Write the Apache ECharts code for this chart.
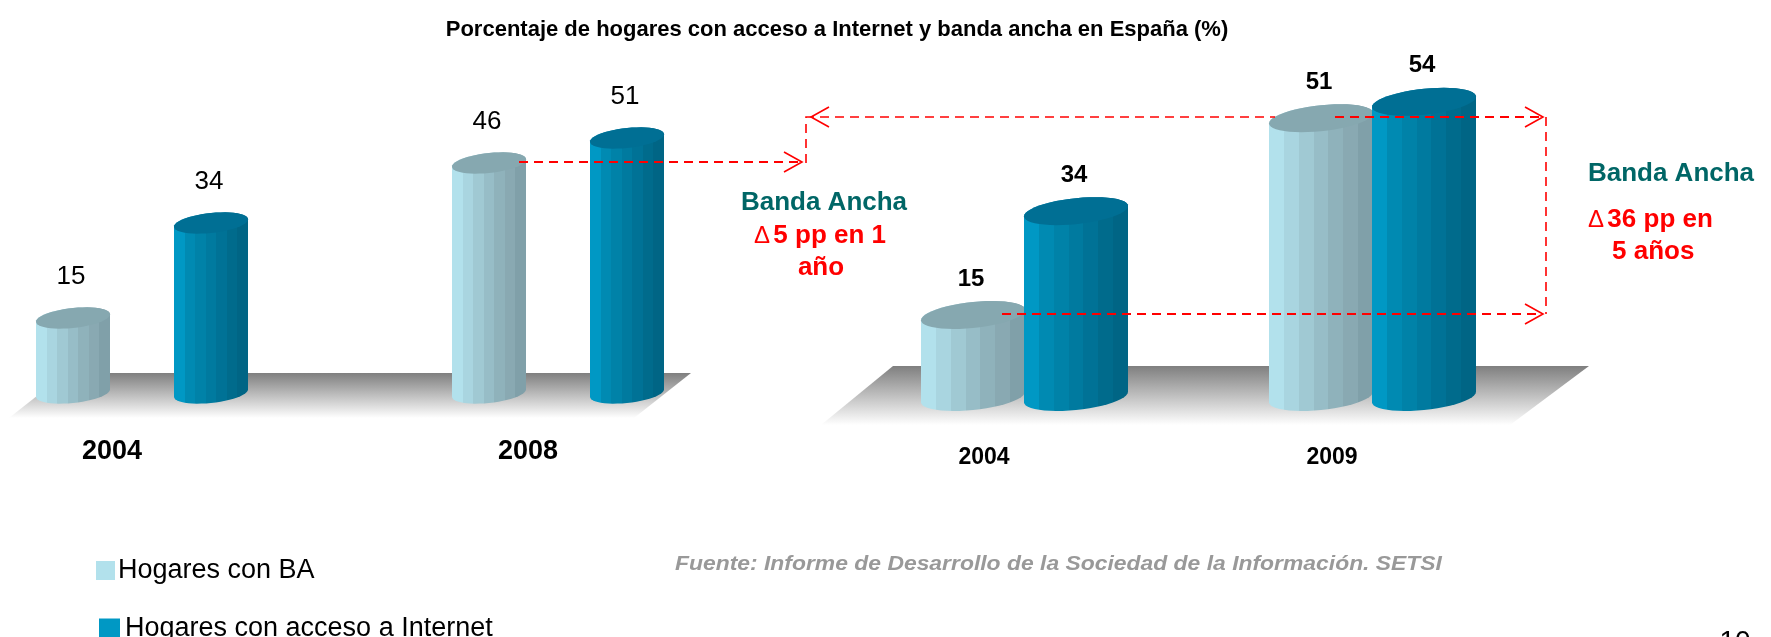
<!DOCTYPE html>
<html>
<head>
<meta charset="utf-8">
<title>Hogares con acceso a Internet y banda ancha</title>
<style>
  html, body { margin: 0; padding: 0; background: #fff; }
  #chart { width: 1771px; height: 637px; }
</style>
</head>
<body>
<div id="chart"></div>
<script src="https://cdn.jsdelivr.net/npm/echarts@6/dist/echarts.min.js"></script>
<script>
const leftYears = ["2004", "2008"];
const leftBA = [15, 46];
const leftInternet = [34, 51];
const rightYears = ["2004", "2009"];
const rightBA = [15, 51];
const rightInternet = [34, 54];

const nameBA = "Hogares con BA";
const nameInternet = "Hogares con acceso a Internet";
const FONT = '"Liberation Sans", Arial, sans-serif';

// vertical facets of the cylinders, left to right
const lightFacets = ["#b2e1ec", "#a9d5e0", "#a0c9d3", "#97bdc7", "#8fb2bb", "#89a9b2", "#80a0a9"];
const darkFacets = ["#0098c4", "#008ab2", "#0082a8", "#007a9f", "#007296", "#006b8c", "#006585"];
const lightCap = "#86a8b0";
const darkCap = "#006f94";

function facetGradient(colors) {
  const stops = [];
  colors.forEach((c, i) => {
    stops.push({ offset: i / colors.length, color: c });
    stops.push({ offset: (i + 1) / colors.length, color: c });
  });
  return new echarts.graphic.LinearGradient(0, 0, 1, 0, stops);
}

// sheared ellipse outline, t in radians
function rimPoint(cx, cy, a, b, shear, t) {
  const dx = a * Math.cos(t);
  return [cx + dx, cy + b * Math.sin(t) - dx * shear];
}

function cylinderSeries(name, data, xAxisIndex, opt) {
  return {
    name,
    type: "custom",
    xAxisIndex,
    yAxisIndex: xAxisIndex,
    itemStyle: { color: opt.swatch },
    encode: { x: 0, y: 1 },
    data: data.map((v, i) => [i, v]),
    renderItem(params, api) {
      const value = api.value(1);
      const top = api.coord([api.value(0), value]);
      const base = api.coord([api.value(0), 0]);
      const cx = top[0] + opt.offset;
      const body = [];
      for (let k = 0; k <= 24; k++) {
        body.push(rimPoint(cx, top[1], opt.a, opt.b, opt.shear, Math.PI + (k / 24) * Math.PI));
      }
      for (let k = 0; k <= 24; k++) {
        body.push(rimPoint(cx, base[1], opt.a, opt.b, opt.shear, (k / 24) * Math.PI));
      }
      const cap = [];
      for (let k = 0; k < 48; k++) {
        cap.push(rimPoint(cx, top[1], opt.a, opt.b, opt.shear, (k / 48) * 2 * Math.PI));
      }
      return {
        type: "group",
        children: [
          { type: "polygon", shape: { points: body }, style: { fill: facetGradient(opt.facets) } },
          { type: "polygon", shape: { points: cap }, style: { fill: opt.cap } },
          {
            type: "text",
            x: cx - 2,
            y: top[1] - opt.labelGap,
            style: {
              text: String(value),
              align: "center",
              verticalAlign: "middle",
              fill: "#000",
              font: opt.labelFont,
            },
          },
        ],
      };
    },
  };
}

const leftShape = { a: 37, b: 10, shear: 0.1, labelGap: 41, labelFont: "26px " + FONT };
const rightShape = { a: 52, b: 13, shear: 0.1, labelGap: 36, labelFont: "bold 24px " + FONT };

function redPath(points, width, z) {
  return {
    type: "polyline",
    z: z || 50,
    shape: { points },
    style: { fill: null, stroke: "#ff0000", lineWidth: width, lineDash: [9, 6] },
  };
}

function arrowHead(x, y, dir) {
  return {
    type: "polyline",
    z: 50,
    shape: { points: [[x - dir * 18, y - 10], [x, y], [x - dir * 18, y + 10]] },
    style: { fill: null, stroke: "#ff0000", lineWidth: 1.6 },
  };
}

function label(text, x, y, font, fill, align) {
  return {
    type: "text",
    z: 50,
    x,
    y,
    style: { text, font, fill, align: align || "center", verticalAlign: "middle" },
  };
}

function deltaLabel(text, x, y, align) {
  return {
    type: "text",
    z: 50,
    x,
    y,
    style: {
      text: "{d|Δ} {t|" + text + "}",
      align: align,
      verticalAlign: "middle",
      rich: {
        d: { font: "24px " + FONT, fill: "#ff0000" },
        t: { font: "bold 26px " + FONT, fill: "#ff0000" },
      },
    },
  };
}

function floor(points) {
  return {
    type: "polygon",
    z: 0,
    shape: { points },
    style: {
      fill: new echarts.graphic.LinearGradient(0, 0, 0, 1, [
        { offset: 0, color: "#7f7f7f" },
        { offset: 1, color: "#ffffff" },
      ]),
    },
  };
}

const chart = echarts.init(document.getElementById("chart"));
chart.setOption({
  animation: false,
  backgroundColor: "#ffffff",
  textStyle: { fontFamily: FONT },
  title: {
    text: "Porcentaje de hogares con acceso a Internet y banda ancha en España (%)",
    left: 832,
    textAlign: "center",
    top: 14,
    textStyle: { fontSize: 22, fontWeight: "bold", color: "#000", fontFamily: FONT },
  },
  legend: [
    {
      data: [nameBA],
      left: 91,
      top: 552,
      icon: "rect",
      itemWidth: 19,
      itemHeight: 19,
      itemGap: 7,
      textStyle: { fontSize: 27, color: "#000", fontFamily: FONT, padding: [0, 0, 0, -2] },
    },
    {
      data: [nameInternet],
      left: 94,
      top: 610,
      icon: "rect",
      itemWidth: 21,
      itemHeight: 20,
      itemGap: 7,
      textStyle: { fontSize: 27, color: "#000", fontFamily: FONT, padding: [0, 0, 0, 0] },
    },
  ],
  grid: [
    { left: 112, width: 416, top: 93, height: 300, containLabel: false },
    { left: 984, width: 348, top: 69, height: 328, containLabel: false },
  ],
  xAxis: [
    {
      gridIndex: 0,
      type: "category",
      boundaryGap: false,
      data: leftYears,
      axisLine: { show: false },
      axisTick: { show: false },
      axisLabel: { interval: 0, margin: 45, fontSize: 27, fontWeight: "bold", color: "#000" },
    },
    {
      gridIndex: 1,
      type: "category",
      boundaryGap: false,
      data: rightYears,
      axisLine: { show: false },
      axisTick: { show: false },
      axisLabel: { interval: 0, margin: 49, fontSize: 23, fontWeight: "bold", color: "#000" },
    },
  ],
  yAxis: [
    { gridIndex: 0, type: "value", min: 0, max: 60, show: false },
    { gridIndex: 1, type: "value", min: 0, max: 60, show: false },
  ],
  series: [
    cylinderSeries(nameBA, leftBA, 0, { ...leftShape, offset: -39, facets: lightFacets, cap: lightCap, swatch: "#b2e1ec" }),
    cylinderSeries(nameInternet, leftInternet, 0, { ...leftShape, offset: 99, facets: darkFacets, cap: darkCap, swatch: "#0098c4" }),
    cylinderSeries(nameBA, rightBA, 1, { ...rightShape, offset: -11, facets: lightFacets, cap: lightCap, swatch: "#b2e1ec" }),
    cylinderSeries(nameInternet, rightInternet, 1, { ...rightShape, offset: 92, facets: darkFacets, cap: darkCap, swatch: "#0098c4" }),
  ],
  graphic: [
    floor([[9, 418], [66, 373], [691, 373], [634, 418]]),
    floor([[821, 425], [893, 366], [1589, 366], [1510, 425]]),

    // left comparison arrow
    redPath([[519, 162], [800, 162]], 2),
    arrowHead(802, 162, 1),
    // right comparison arrows
    redPath([[806, 163], [806, 117], [1275, 117]], 1.6),
    arrowHead(811, 117, -1),
    redPath([[1335, 117], [1543, 117]], 2),
    arrowHead(1543, 117, 1),
    redPath([[1546, 117], [1546, 314]], 1.6),
    redPath([[1002, 314], [1543, 314]], 2),
    arrowHead(1543, 314, 1),

    label("Banda Ancha", 824, 203, "bold 26px " + FONT, "#006666"),
    deltaLabel("5 pp en 1", 820, 236, "center"),
    label("año", 821, 268, "bold 26px " + FONT, "#ff0000"),

    label("Banda Ancha", 1671, 174, "bold 26px " + FONT, "#006666"),
    deltaLabel("36 pp en", 1588, 220, "left"),
    label("5 años", 1612, 252, "bold 26px " + FONT, "#ff0000", "left"),

    {
      type: "text",
      z: 50,
      x: 675,
      y: 564,
      scaleX: 1.09,
      style: {
        text: "Fuente: Informe de Desarrollo de la Sociedad de la Información. SETSI",
        font: "italic bold 21px " + FONT,
        fill: "#999999",
        verticalAlign: "middle",
      },
    },
    label("10", 1735, 642, "28px " + FONT, "#000"),
  ],
});
</script>
</body>
</html>
